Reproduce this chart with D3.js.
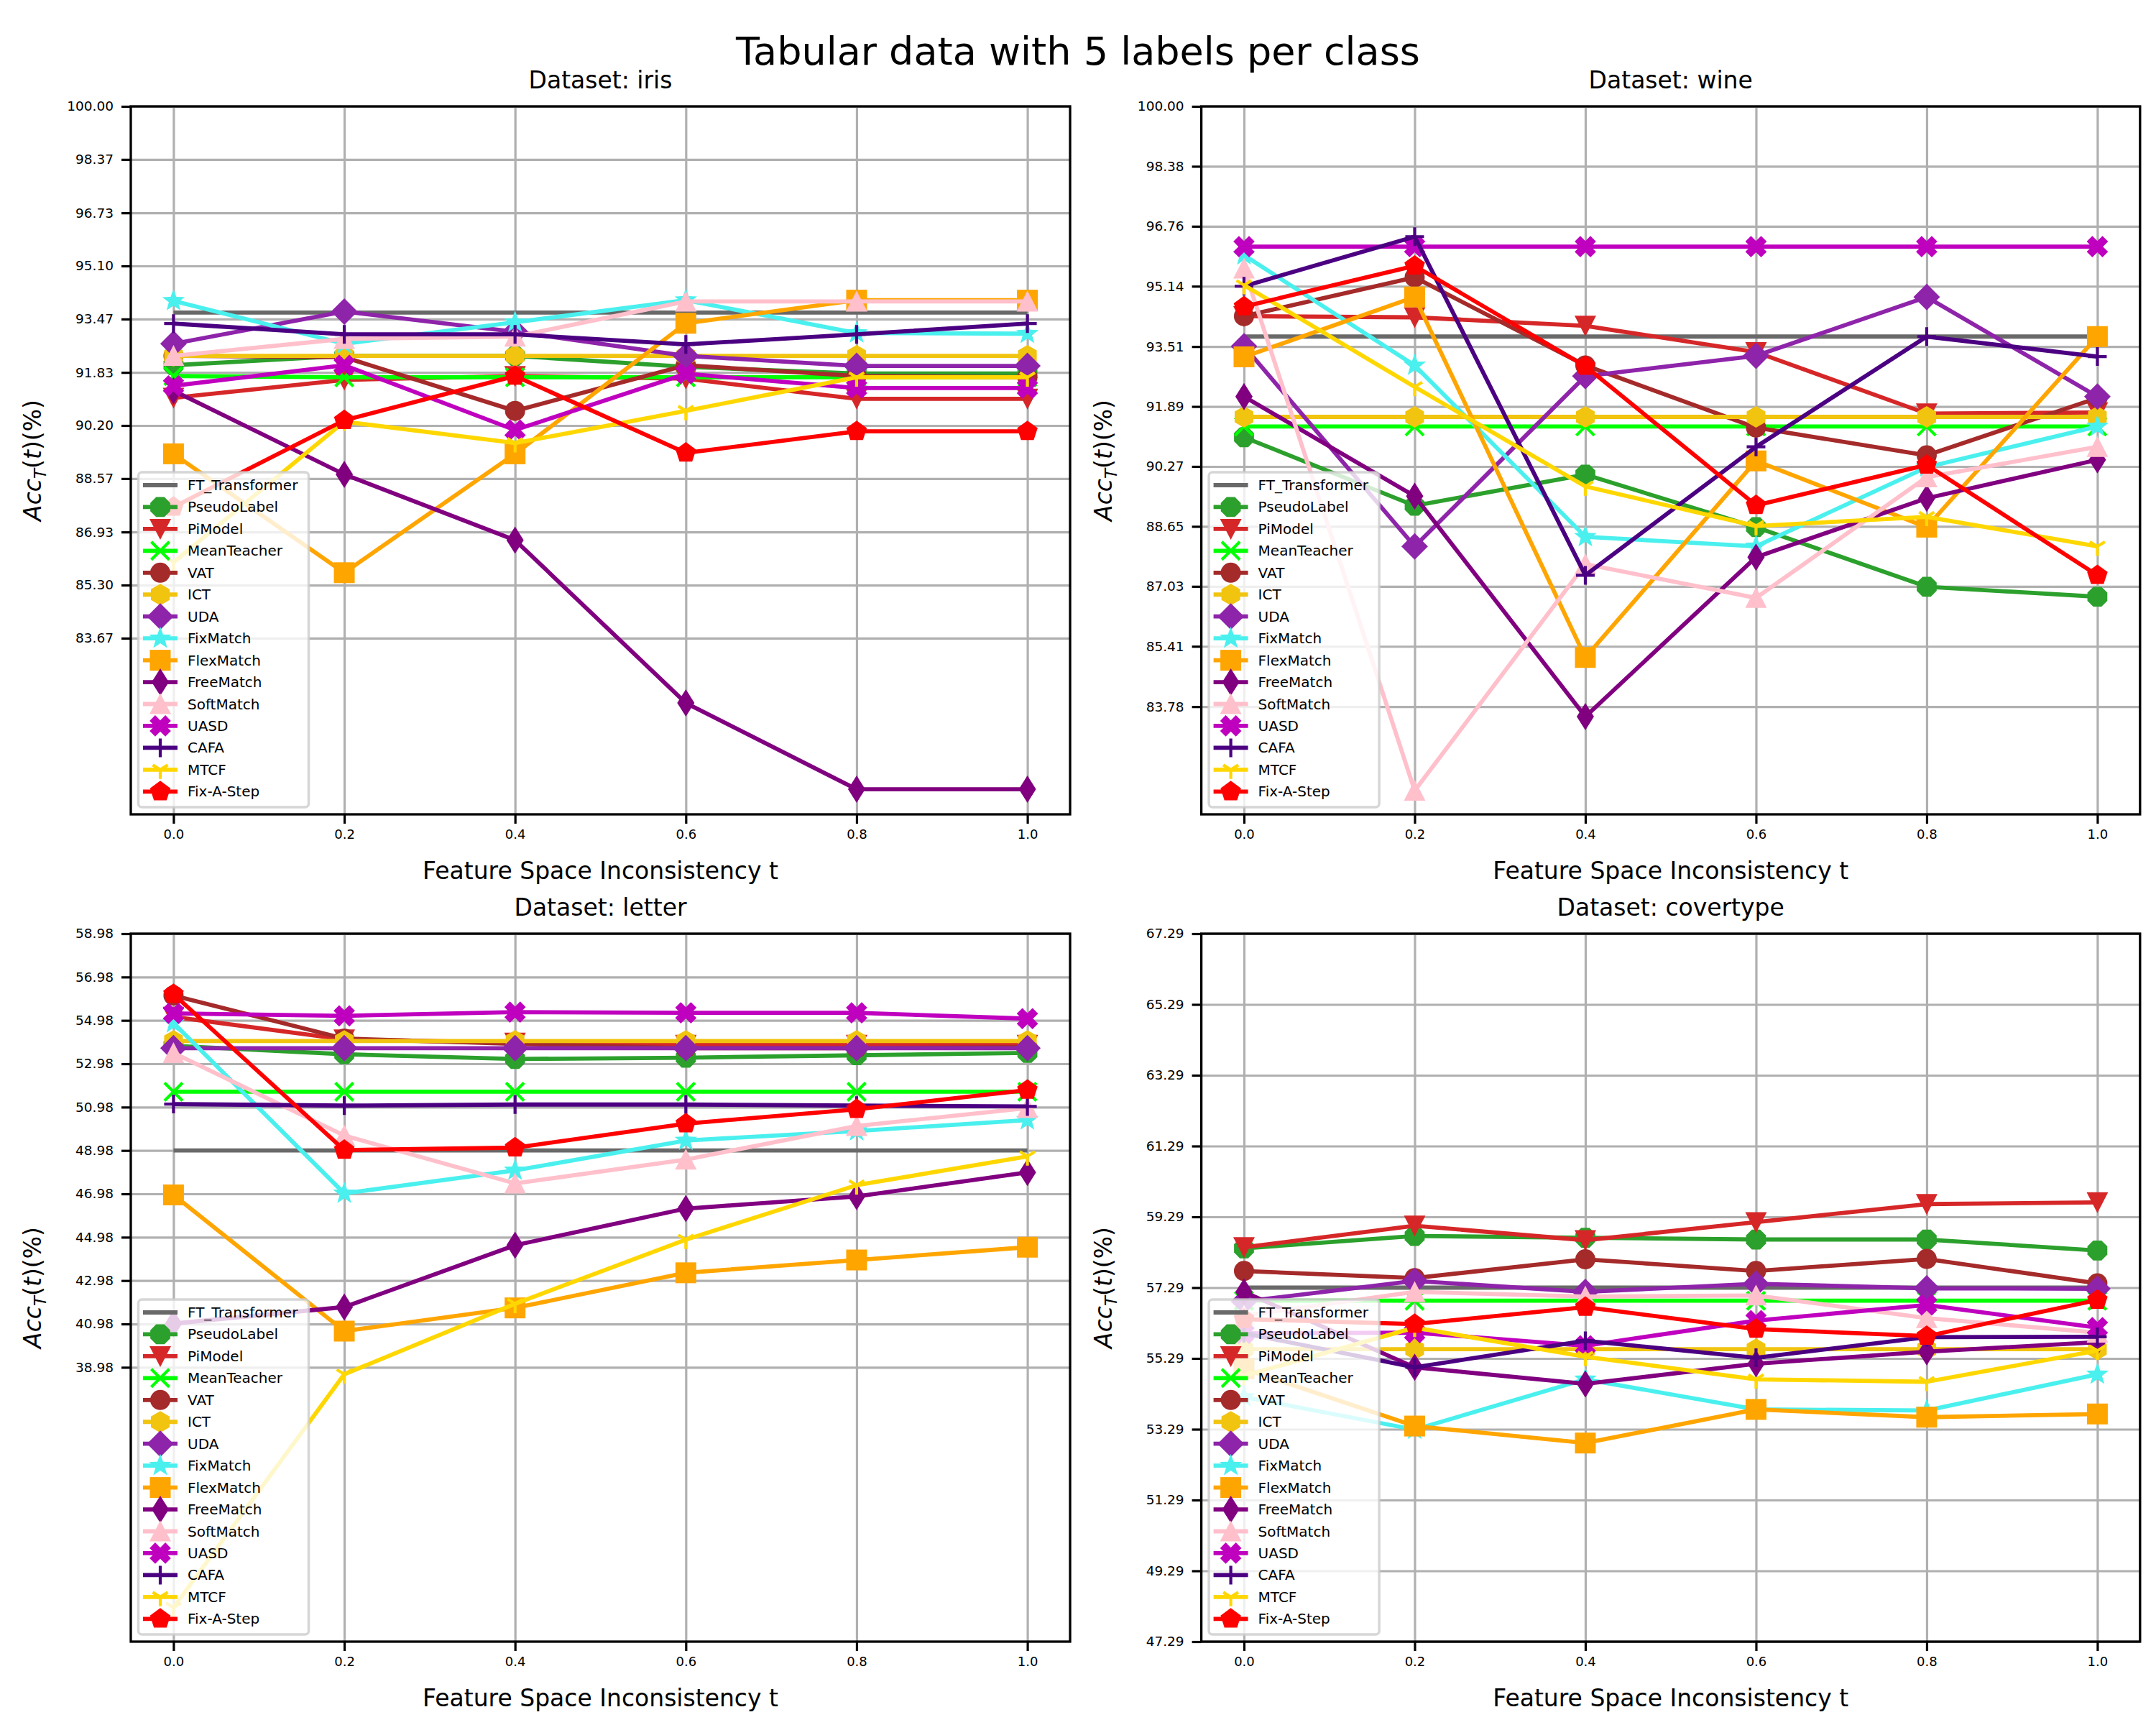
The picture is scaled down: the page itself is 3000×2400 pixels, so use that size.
<!DOCTYPE html>
<html><head><meta charset="utf-8">
<script src="https://cdn.jsdelivr.net/npm/d3@7"></script>
<style>body{margin:0;background:#fff}</style>
</head><body>
<svg id="chart" width="3000" height="2400" xmlns="http://www.w3.org/2000/svg"></svg>
<script>
// ---------------- DATA ----------------
const xValues = [0, 0.2, 0.4, 0.6, 0.8, 1.0];
const xTickLabels = ["0.0", "0.2", "0.4", "0.6", "0.8", "1.0"];
const methods = ["FT_Transformer", "PseudoLabel", "PiModel", "MeanTeacher", "VAT", "ICT", "UDA",
  "FixMatch", "FlexMatch", "FreeMatch", "SoftMatch", "UASD", "CAFA", "MTCF", "Fix-A-Step"];
const datasetTitles = ["Dataset: iris", "Dataset: wine", "Dataset: letter", "Dataset: covertype"];

// rows follow the order of `methods`
const irisAcc = [
  [93.67, 93.67, 93.67, 93.67, 93.67, 93.67],
  [92.05, 92.34, 92.34, 92.00, 91.80, 91.80],
  [91.05, 91.60, 91.72, 91.64, 91.02, 91.02],
  [91.72, 91.68, 91.68, 91.68, 91.68, 91.68],
  [92.34, 92.30, 90.65, 92.05, 91.72, 91.68],
  [92.34, 92.34, 92.34, 92.34, 92.34, 92.34],
  [92.71, 93.70, 93.08, 92.34, 92.03, 92.03],
  [94.03, 92.71, 93.37, 94.05, 93.04, 93.02],
  [89.33, 85.68, 89.33, 93.34, 94.05, 94.05],
  [91.27, 88.70, 86.68, 81.68, 79.03, 79.03],
  [92.34, 92.86, 92.93, 94.01, 94.01, 94.01],
  [91.42, 92.05, 90.06, 91.79, 91.35, 91.35],
  [93.33, 93.00, 93.00, 92.69, 93.00, 93.33],
  [86.00, 90.32, 89.66, 90.65, 91.68, 91.68],
  [87.70, 90.36, 91.72, 89.36, 90.02, 90.02]
];
const wineAcc = [
  [93.78, 93.78, 93.78, 93.78, 93.78, 93.78],
  [91.06, 89.21, 90.05, 88.63, 87.02, 86.75],
  [94.33, 94.30, 94.07, 93.36, 91.70, 91.73],
  [91.35, 91.35, 91.35, 91.35, 91.35, 91.35],
  [94.33, 95.38, 93.00, 91.32, 90.57, 92.12],
  [91.61, 91.61, 91.61, 91.61, 91.61, 91.61],
  [93.52, 88.11, 92.71, 93.26, 94.85, 92.16],
  [95.98, 93.00, 88.37, 88.11, 90.25, 91.35],
  [93.23, 94.85, 85.11, 90.42, 88.63, 93.78],
  [92.16, 89.47, 83.51, 87.82, 89.41, 90.45],
  [95.62, 81.51, 87.63, 86.72, 89.98, 90.80],
  [96.21, 96.21, 96.21, 96.21, 96.21, 96.21],
  [95.14, 96.48, 87.33, 90.80, 93.78, 93.24],
  [95.17, 92.42, 89.73, 88.66, 88.91, 88.11],
  [94.59, 95.69, 92.98, 89.22, 90.31, 87.33]
];
const letterAcc = [
  [48.98, 48.98, 48.98, 48.98, 48.98, 48.98],
  [53.81, 53.42, 53.20, 53.26, 53.37, 53.48],
  [55.14, 54.10, 53.95, 53.85, 53.85, 53.85],
  [51.69, 51.69, 51.69, 51.69, 51.69, 51.69],
  [56.13, 54.14, 53.90, 53.70, 53.70, 53.75],
  [54.03, 54.03, 54.03, 54.03, 54.03, 54.03],
  [53.70, 53.70, 53.70, 53.70, 53.70, 53.70],
  [54.86, 47.00, 48.06, 49.44, 49.88, 50.38],
  [46.93, 40.65, 41.72, 43.34, 43.93, 44.52],
  [41.00, 41.76, 44.61, 46.30, 46.86, 47.97],
  [53.48, 49.67, 47.46, 48.56, 50.11, 50.94],
  [55.30, 55.19, 55.36, 55.33, 55.33, 55.06],
  [51.12, 51.05, 51.10, 51.10, 51.05, 51.01],
  [27.90, 38.66, 41.91, 44.87, 47.38, 48.71],
  [56.19, 49.00, 49.11, 50.22, 50.88, 51.77]
];
const covertypeAcc = [
  [57.29, 57.29, 57.29, 57.29, 57.29, 57.29],
  [58.40, 58.75, 58.70, 58.65, 58.65, 58.34],
  [58.43, 59.04, 58.63, 59.14, 59.65, 59.70],
  [56.92, 56.92, 56.92, 56.92, 56.92, 56.92],
  [57.76, 57.56, 58.09, 57.76, 58.10, 57.41],
  [55.55, 55.55, 55.55, 55.55, 55.55, 55.55],
  [56.90, 57.48, 57.17, 57.40, 57.27, 57.26],
  [54.20, 53.28, 54.70, 53.85, 53.82, 54.84],
  [55.00, 53.38, 52.90, 53.85, 53.63, 53.72],
  [57.17, 55.04, 54.57, 55.14, 55.48, 55.75],
  [56.50, 57.17, 57.04, 57.07, 56.43, 56.02],
  [56.00, 56.02, 55.65, 56.36, 56.80, 56.16],
  [56.00, 55.04, 55.79, 55.31, 55.89, 55.90],
  [54.80, 56.16, 55.34, 54.70, 54.63, 55.51],
  [56.40, 56.26, 56.74, 56.12, 55.92, 56.94]
];

const irisTicks = ["83.67", "85.30", "86.93", "88.57", "90.20", "91.83", "93.47", "95.10", "96.73", "98.37", "100.00"];
const wineTicks = ["83.78", "85.41", "87.03", "88.65", "90.27", "91.89", "93.51", "95.14", "96.76", "98.38", "100.00"];
const letterTicks = ["38.98", "40.98", "42.98", "44.98", "46.98", "48.98", "50.98", "52.98", "54.98", "56.98", "58.98"];
const covertypeTicks = ["47.29", "49.29", "51.29", "53.29", "55.29", "57.29", "59.29", "61.29", "63.29", "65.29", "67.29"];

const irisYDomain = [78.26, 100];
const wineYDomain = [80.87, 100];
const letterYDomain = [26.33, 58.98];
const covertypeYDomain = [47.29, 67.29];

// ---------------- STYLE ----------------
const colors = ["#696969", "#2ca02c", "#d62728", "#00ff00", "#a52a2a", "#f1c40f", "#8e24aa",
  "#4af0ee", "#ffa500", "#800080", "#ffc0cb", "#bf00bf", "#4b0082", "#ffd700", "#ff0000"];
const markers = [null, "8", "v", "x", "o", "h", "D", "*", "s", "d", "^", "X", "+", "1", "p"];
const FONT = "DejaVu Sans, Verdana, sans-serif";

function poly(n, r, rot) {
  const pts = [];
  for (let k = 0; k < n; k++) {
    const a = rot + k * 2 * Math.PI / n;
    pts.push((r * Math.cos(a)).toFixed(2) + "," + (r * Math.sin(a)).toFixed(2));
  }
  return "M" + pts.join("L") + "Z";
}
function star(R, r) {
  const pts = [];
  for (let k = 0; k < 10; k++) {
    const a = -Math.PI / 2 + k * Math.PI / 5;
    const rr = k % 2 === 0 ? R : r;
    pts.push((rr * Math.cos(a)).toFixed(2) + "," + (rr * Math.sin(a)).toFixed(2));
  }
  return "M" + pts.join("L") + "Z";
}
function xFilled(a, w) {
  const base = [[-w,-a],[w,-a],[w,-w],[a,-w],[a,w],[w,w],[w,a],[-w,a],[-w,w],[-a,w],[-a,-w],[-w,-w]];
  const c = Math.cos(Math.PI / 4), s = Math.sin(Math.PI / 4);
  return "M" + base.map(([x, y]) => (x * c - y * s).toFixed(2) + "," + (x * s + y * c).toFixed(2)).join("L") + "Z";
}
const markerShapes = {
  "o": { d: "M14,0A14,14 0 1,1 -14,0A14,14 0 1,1 14,0Z", filled: true },
  "8": { d: poly(8, 15, Math.PI / 8), filled: true },
  "v": { d: "M-15,-14L15,-14L0,15Z", filled: true },
  "^": { d: "M0,-15L15,14L-15,14Z", filled: true },
  "h": { d: poly(6, 15, -Math.PI / 2), filled: true },
  "D": { d: "M0,-18.5L18.5,0L0,18.5L-18.5,0Z", filled: true },
  "*": { d: star(16.5, 6.8), filled: true },
  "s": { d: "M-14.5,-14.5h29v29h-29Z", filled: true },
  "d": { d: "M0,-19L12,0L0,19L-12,0Z", filled: true },
  "X": { d: xFilled(15.5, 5.5), filled: true },
  "p": { d: poly(5, 15, -Math.PI / 2), filled: true },
  "+": { d: "M-13,0H13M0,-13V13", filled: false },
  "x": { d: "M-12.5,-12.5L12.5,12.5M-12.5,12.5L12.5,-12.5", filled: false },
  "1": { d: "M0,0V13M0,0L10.5,-6.5M0,0L-10.5,-6.5", filled: false }
};
function drawMarker(sel, m, color, cx, cy) {
  const shape = markerShapes[m];
  const p = sel.append("path").attr("d", shape.d).attr("transform", `translate(${cx},${cy})`);
  if (shape.filled) p.attr("fill", color).attr("stroke", "none");
  else p.attr("fill", "none").attr("stroke", color).attr("stroke-width", 4.2).attr("stroke-linecap", "butt");
}

// ---------------- LAYOUT ----------------
const panels = [
  { data: irisAcc, ticks: irisTicks, domain: irisYDomain, title: datasetTitles[0], left: 182, right: 1489, top: 148, bottom: 1133 },
  { data: wineAcc, ticks: wineTicks, domain: wineYDomain, title: datasetTitles[1], left: 1671.6, right: 2977.8, top: 148, bottom: 1133 },
  { data: letterAcc, ticks: letterTicks, domain: letterYDomain, title: datasetTitles[2], left: 182, right: 1489, top: 1299, bottom: 2284 },
  { data: covertypeAcc, ticks: covertypeTicks, domain: covertypeYDomain, title: datasetTitles[3], left: 1671.6, right: 2977.8, top: 1299, bottom: 2284 }
];

const svg = d3.select("#chart");
svg.append("rect").attr("width", 3000).attr("height", 2400).attr("fill", "#fff");
svg.append("text").attr("x", 1500).attr("y", 90).attr("text-anchor", "middle")
  .attr("font-family", FONT).attr("font-size", 54).attr("fill", "#000")
  .text("Tabular data with 5 labels per class");

panels.forEach((P, pi) => {
  const g = svg.append("g");
  const x = d3.scaleLinear().domain([-0.05, 1.05]).range([P.left, P.right]);
  const y = d3.scaleLinear().domain(P.domain).range([P.bottom, P.top]);
  const tickVals = P.ticks.map(Number);
  const w = P.right - P.left, h = P.bottom - P.top;

  const clipId = "clip" + pi;
  g.append("clipPath").attr("id", clipId).append("rect")
    .attr("x", P.left).attr("y", P.top).attr("width", w).attr("height", h);

  // grid
  const gx = g.append("g").attr("transform", `translate(0,${P.bottom})`)
    .call(d3.axisBottom(x).tickValues(xValues).tickSize(-h).tickFormat(""));
  gx.select(".domain").remove();
  gx.selectAll("line").attr("stroke", "#b0b0b0").attr("stroke-width", 3.2);
  const gy = g.append("g").attr("transform", `translate(${P.left},0)`)
    .call(d3.axisLeft(y).tickValues(tickVals).tickSize(-w).tickFormat(""));
  gy.select(".domain").remove();
  gy.selectAll("line").attr("stroke", "#b0b0b0").attr("stroke-width", 3.2);

  // series
  const plot = g.append("g").attr("clip-path", `url(#${clipId})`);
  const line = d3.line().x((d, i) => x(xValues[i])).y(d => y(d));
  P.data.forEach((vals, si) => {
    plot.append("path").attr("d", line(vals)).attr("fill", "none")
      .attr("stroke", colors[si]).attr("stroke-width", 5.8).attr("stroke-linejoin", "round").attr("stroke-linecap", "butt");
    if (markers[si]) vals.forEach((v, i) => drawMarker(plot, markers[si], colors[si], x(xValues[i]), y(v)));
  });

  // axes
  const ax = g.append("g").attr("transform", `translate(0,${P.bottom})`)
    .call(d3.axisBottom(x).tickValues(xValues).tickSize(13).tickPadding(8).tickFormat((d, i) => xTickLabels[i]));
  ax.select(".domain").remove();
  ax.selectAll("line").attr("stroke", "#000").attr("stroke-width", 3.2);
  ax.selectAll("text").attr("font-family", FONT).attr("font-size", 18).attr("fill", "#000");
  const ay = g.append("g").attr("transform", `translate(${P.left},0)`)
    .call(d3.axisLeft(y).tickValues(tickVals).tickSize(13).tickPadding(11).tickFormat((d, i) => P.ticks[i]));
  ay.select(".domain").remove();
  ay.selectAll("line").attr("stroke", "#000").attr("stroke-width", 3.2);
  ay.selectAll("text").attr("font-family", FONT).attr("font-size", 18.5).attr("fill", "#000");

  g.append("rect").attr("x", P.left).attr("y", P.top).attr("width", w).attr("height", h)
    .attr("fill", "none").attr("stroke", "#000").attr("stroke-width", 3.3);

  // titles / labels
  const cx = (P.left + P.right) / 2;
  g.append("text").attr("x", cx).attr("y", P.top - 25).attr("text-anchor", "middle")
    .attr("font-family", FONT).attr("font-size", 33).text(P.title);
  g.append("text").attr("x", cx).attr("y", P.bottom + 90).attr("text-anchor", "middle")
    .attr("font-family", FONT).attr("font-size", 33).text("Feature Space Inconsistency t");
  const yl = g.append("text").attr("transform", `translate(${P.left - 125},${(P.top + P.bottom) / 2}) rotate(-90)`)
    .attr("text-anchor", "middle").attr("font-family", FONT).attr("font-size", 33);
  yl.append("tspan").attr("font-style", "italic").text("Acc");
  yl.append("tspan").attr("font-style", "italic").attr("font-size", 23).attr("dy", 7).text("T");
  yl.append("tspan").attr("dy", -7).text("(");
  yl.append("tspan").attr("font-style", "italic").text("t");
  yl.append("tspan").text(")(%)");

  // legend
  const lx = P.left + 10.5, lyTop = P.bottom - 476, lyBot = P.bottom - 10;
  const lg = g.append("g");
  lg.append("rect").attr("x", lx).attr("y", lyTop).attr("width", 237).attr("height", lyBot - lyTop)
    .attr("rx", 5).attr("fill", "#fff").attr("fill-opacity", 0.8)
    .attr("stroke", "#cccccc").attr("stroke-opacity", 0.8).attr("stroke-width", 3.5);
  methods.forEach((name, si) => {
    const cy = lyTop + 18 + si * 30.45;
    lg.append("line").attr("x1", lx + 6.5).attr("x2", lx + 54.5).attr("y1", cy).attr("y2", cy)
      .attr("stroke", colors[si]).attr("stroke-width", 5.8);
    if (markers[si]) drawMarker(lg, markers[si], colors[si], lx + 30.5, cy);
    lg.append("text").attr("x", lx + 68.5).attr("y", cy + 7).attr("font-family", FONT)
      .attr("font-size", 20).attr("fill", "#000").text(name);
  });
});
</script>
</body></html>
